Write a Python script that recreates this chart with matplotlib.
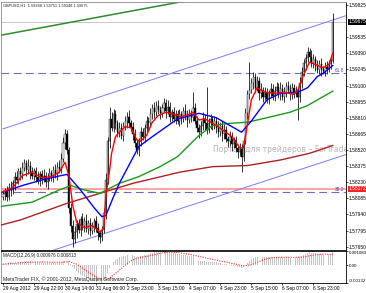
import numpy as np
import matplotlib
matplotlib.use('Agg')
import matplotlib.pyplot as plt
import matplotlib.transforms as mtransforms

plt.rcParams['font.family'] = ['Liberation Sans Narrow', 'Liberation Sans', 'DejaVu Sans']

# prices kept in pips, 5812 -> 1.5812
first_open = 5810
close_pips = [
    5812, 5815, 5810, 5818, 5816, 5822, 5828, 5825, 5833, 5830,
    5836, 5840, 5834, 5838, 5832, 5829, 5833, 5828, 5824, 5830,
    5826, 5829, 5823, 5827, 5831, 5828, 5834, 5830, 5837, 5835,
    5844, 5858, 5866, 5852, 5800, 5784, 5772, 5778, 5785, 5780,
    5790, 5784, 5788, 5781, 5786, 5779, 5783, 5788, 5782, 5777,
    5774, 5780, 5795, 5825, 5860, 5880, 5872, 5884, 5876, 5868,
    5872, 5865, 5874, 5878, 5882, 5876, 5873, 5866, 5858, 5852,
    5860, 5868, 5864, 5872, 5878, 5876, 5884, 5890, 5886, 5892,
    5888, 5885, 5890, 5894, 5887, 5891, 5882, 5886, 5880, 5884,
    5878, 5884, 5880, 5887, 5883, 5879, 5885, 5882, 5890, 5878,
    5872, 5868, 5874, 5880, 5876, 5870, 5876, 5880, 5874, 5878,
    5872, 5868, 5874, 5866, 5870, 5862, 5860, 5864, 5857, 5861,
    5854, 5850, 5853, 5846, 5860, 5885, 5902, 5906, 5912, 5918,
    5908, 5914, 5903, 5906, 5900, 5904, 5898, 5903, 5907, 5901,
    5905, 5909, 5903, 5907, 5900, 5904, 5910, 5906, 5902, 5908,
    5903, 5905, 5900, 5912, 5922, 5930, 5935, 5940, 5936, 5930,
    5934, 5928, 5924, 5929, 5925, 5923, 5927, 5925, 5929, 5932,
    5967]
wick_up = [
    4, 3, 5, 4, 6, 3, 4, 5, 3, 4,
    5, 4, 3, 6, 4, 5, 3, 4, 5, 3,
    4, 6, 3, 4, 5, 3, 4, 5, 4, 6,
    5, 6, 5, 4, 3, 4, 5, 6, 4, 5,
    3, 5, 4, 6, 3, 5, 4, 3, 5, 4,
    3, 4, 5, 6, 4, 11, 6, 5, 4, 3,
    5, 4, 3, 5, 4, 6, 3, 4, 5, 4,
    3, 5, 4, 3, 5, 4, 6, 3, 5, 4,
    5, 4, 3, 5, 4, 6, 4, 3, 5, 4,
    4, 5, 3, 4, 6, 5, 4, 3, 14, 4,
    5, 3, 4, 6, 4, 33, 5, 4, 3, 5,
    4, 6, 3, 4, 5, 4, 3, 5, 4, 3,
    4, 3, 5, 4, 3, 5, 4, 25, 5, 4,
    3, 5, 4, 6, 3, 5, 4, 3, 5, 4,
    5, 4, 3, 6, 4, 5, 3, 4, 5, 4,
    3, 5, 4, 6, 5, 4, 3, 5, 4, 6,
    4, 3, 5, 4, 6, 3, 4, 5, 4, 3,
    8]
wick_dn = [
    3, 5, 4, 3, 5, 4, 6, 3, 4, 5,
    4, 3, 5, 4, 6, 3, 4, 5, 3, 4,
    5, 3, 4, 6, 3, 4, 5, 3, 5, 4,
    4, 3, 5, 4, 5, 6, 7, 4, 5, 3,
    5, 4, 6, 3, 5, 4, 3, 5, 4, 6,
    6, 4, 3, 5, 4, 6, 3, 4, 5, 4,
    4, 3, 5, 4, 6, 3, 4, 5, 3, 4,
    5, 4, 3, 5, 4, 6, 3, 4, 5, 3,
    4, 5, 3, 4, 6, 3, 5, 4, 3, 5,
    3, 4, 5, 3, 4, 6, 3, 5, 4, 3,
    4, 5, 3, 4, 6, 4, 3, 5, 4, 3,
    5, 4, 3, 6, 4, 3, 5, 4, 6, 3,
    4, 5, 3, 14, 4, 3, 5, 4, 3, 5,
    4, 3, 6, 4, 5, 3, 4, 5, 3, 4,
    5, 3, 4, 6, 3, 5, 4, 3, 5, 4,
    4, 3, 21, 5, 4, 3, 6, 4, 5, 3,
    4, 5, 3, 4, 6, 3, 4, 5, 3, 4,
    2]

# moving averages (bar index, pips)
fast_i = [-2, 5, 10, 15, 20, 25, 29, 32, 34, 36, 38, 42, 46, 50, 52, 53, 55, 56, 58, 60,
          63, 66, 69, 71, 74, 77, 80, 84, 88, 92, 96, 98, 101, 104, 107, 110, 114, 118,
          122, 124, 126, 128, 131, 135, 140, 145, 150, 152, 155, 158, 161, 165, 168, 170]
fast_p = [5813, 5818, 5829, 5832, 5827, 5828, 5832, 5841, 5829, 5802, 5787, 5782, 5784,
          5778, 5782, 5810, 5834, 5849, 5864, 5868, 5873, 5872, 5861, 5860, 5865, 5877,
          5883, 5886, 5884, 5882, 5884, 5886, 5879, 5880, 5877, 5874, 5869, 5864, 5854,
          5854, 5875, 5897, 5908, 5904, 5903, 5904, 5902, 5906, 5920, 5931, 5929, 5926,
          5929, 5939]
mid_i = [-2, 10, 20, 30, 33, 40, 47, 51, 53, 57, 60, 70, 77, 90, 101, 110, 118, 123,
         128, 136, 143, 152, 157, 162, 165, 170]
mid_p = [5813, 5820, 5825, 5829, 5830, 5816, 5800, 5792, 5793, 5810, 5822, 5855, 5864,
         5880, 5885, 5881, 5873, 5868, 5878, 5897, 5903, 5904, 5908, 5918, 5921, 5928]
slow_i = [-2, 15, 29, 35, 42, 50, 60, 70, 81, 90, 101, 108, 117, 126, 136, 148, 157, 170]
slow_p = [5801, 5805, 5816, 5820, 5816, 5813, 5822, 5828, 5837, 5846, 5865, 5874, 5876,
          5877, 5881, 5886, 5892, 5905]
long_i = [-2, 9, 33, 50, 67, 91, 108, 126, 143, 158, 170]
long_p = [5784, 5789, 5804, 5813, 5822, 5832, 5837, 5838, 5843, 5849, 5856]

# trend lines and levels
chan_i = [0, 177]
chan_top = [5871, 5973]
chan_bot = [5747, 5848]
green_i = [-2, 100]
green_p = [5955, 5988]
bid = 1.59675
red_level = 1.58172
fib_levels = [1.5921, 1.5814]
fib_names = ['61.8', '38.2']

# MACD histogram, units of 1e-5
macd_hist = [
    12, 13, 12, 14, 15, 17, 20, 21, 24, 25,
    28, 31, 31, 32, 31, 29, 29, 27, 24, 24,
    22, 22, 19, 19, 20, 19, 21, 20, 22, 23,
    27, 36, 46, 46, 32, 14, -10, -30, -45, -60,
    -70, -82, -90, -100, -105, -112, -116, -118, -122, -127,
    -132, -130, -118, -92, -55, -20, 5, 28, 42, 52,
    60, 64, 68, 72, 76, 78, 78, 76, 72, 66,
    65, 68, 70, 75, 80, 85, 91, 97, 100, 104,
    106, 107, 108, 108, 106, 104, 100, 97, 93, 90,
    85, 84, 80, 79, 76, 72, 71, 68, 69, 63,
    44, 37, 35, 35, 32, 28, 28, 29, 26, 26,
    23, 19, 19, 14, 13, 8, 3, 2, -3, -4,
    -8, -13, -14, -20, -14, 0, 18, 31, 45, 58,
    62, 67, 66, 68, 66, 67, 64, 63, 63, 62,
    62, 64, 62, 63, 60, 60, 62, 61, 59, 60,
    58, 59, 56, 62, 70, 80, 88, 96, 98, 97,
    97, 93, 88, 87, 83, 79, 79, 76, 77, 78,
    97.6]
sig_i = [0, 10, 20, 30, 34, 38, 42, 46, 50, 54, 58, 62, 66, 70, 75, 80, 85, 90, 95, 100,
         105, 110, 115, 120, 124, 128, 132, 136, 140, 145, 150, 155, 160, 165, 170]
sig_v = [10, 22, 26, 23, 30, 10, -30, -70, -100, -105, -60, -10, 35, 58, 70, 88, 100, 97,
         86, 72, 55, 40, 25, 10, -4, 5, 30, 50, 60, 62, 60, 64, 78, 85, 81.3]

date_ticks = [0, 16, 32, 48, 64, 80, 96, 112, 128, 144, 160]
date_labels = ['29 Aug 2012', '29 Aug 22:00', '30 Aug 14:00', '31 Aug 06:00', '2 Sep 23:00',
               '3 Sep 15:00', '4 Sep 07:00', '4 Sep 23:00', '5 Sep 15:00', '6 Sep 07:00',
               '6 Sep 23:00']
price_ticks = [1.57650, 1.57795, 1.57940, 1.58085, 1.58230, 1.58375, 1.58520, 1.58665,
               1.58810, 1.58955, 1.59100, 1.59245, 1.59390, 1.59535, 1.59825]
macd_ticks = [0.001083, 0.0, -0.00132]
macd_labels = ['0.001083', '0.00', '-0.00132']
header = 'GBPUSD,H1  1.59348 1.59751 1.59348 1.59675'
macd_title = 'MACD(12,26,9) 0.000976 0.000813'
footer = 'MetaTrader FIX, \u00a9 2001-2012, MetaQuotes Software Corp.'
watermark = 'Портал для трейдеров \u2013 ForTrader'


def px(p):
    return 1.0 + np.asarray(p, dtype=float) / 10000.0


c = px(close_pips)
o = px([first_open] + close_pips[:-1])
hi = np.maximum(o, c) + np.asarray(wick_up) / 10000.0
lo = np.minimum(o, c) - np.asarray(wick_dn) / 10000.0
idx = np.arange(len(c))

fig = plt.figure(figsize=(3.66, 2.93), dpi=100)
ax = fig.add_axes([0.0027, 0.1468, 0.9426, 0.8464])
ax2 = fig.add_axes([0.0027, 0.0341, 0.9426, 0.1092])

fs = 3.5

# candles
ax.vlines(idx, lo, hi, color='black', lw=0.55, zorder=3)
up = c >= o
ax.bar(idx[up], (c - o)[up], bottom=o[up], width=0.6, color='white',
       edgecolor='black', lw=0.3, zorder=4)
ax.bar(idx[~up], (o - c)[~up], bottom=c[~up], width=0.6, color='black',
       edgecolor='black', lw=0.3, zorder=4)

# levels / trend lines
ax.axhline(bid, color='#c8c8c8', lw=0.7, zorder=1)
ax.axhline(red_level, color='#ff9a9a', lw=1.3, zorder=1)
for lev in fib_levels:
    ax.axhline(lev, color='#6c6cc8', lw=0.8, ls=(0, (7, 4)), zorder=2)
ax.plot(chan_i, px(chan_top), color='#7a7aff', lw=0.7, zorder=2)
ax.plot(chan_i, px(chan_bot), color='#7a7aff', lw=0.7, zorder=2)
ax.plot(green_i, px(green_p), color='#2e8b2e', lw=1.1, zorder=2)

# moving averages
ax.plot(long_i, px(long_p), color='#b02020', lw=1.0, zorder=5)
ax.plot(slow_i, px(slow_p), color='#1a9a1a', lw=1.0, zorder=5)
ax.plot(mid_i, px(mid_p), color='#0000ff', lw=1.0, zorder=6)
ax.plot(fast_i, px(fast_p), color='#ff0000', lw=1.0, zorder=7)

ax.set_xlim(-1.0, 176.8)
ax.set_ylim(1.57620, 1.59852)
ax.yaxis.tick_right()
ax.set_yticks(price_ticks)
ax.set_yticklabels(['%.5f' % t for t in price_ticks])
ax.tick_params(axis='y', labelsize=fs, length=1.5, width=0.5, pad=0.6)
ax.set_xticks([])
for s in ax.spines.values():
    s.set_linewidth(0.6)
ax.spines['left'].set_color('#888888')
ax.spines['top'].set_color('#888888')

trans = mtransforms.blended_transform_factory(ax.transAxes, ax.transData)
ax.text(1.007, bid, '%.5f' % bid, transform=trans, fontsize=fs, color='white',
        va='center', ha='left', clip_on=False,
        bbox=dict(boxstyle='square,pad=0.12', fc='black', ec='none'))
ax.text(1.007, red_level, '%.5f' % red_level, transform=trans, fontsize=fs,
        color='white', va='center', ha='left', clip_on=False,
        bbox=dict(boxstyle='square,pad=0.12', fc='#ff2020', ec='none'))
for lev, name in zip(fib_levels, fib_names):
    ax.text(0.995, lev, name, transform=trans, fontsize=3.4, color='#4848c0',
            va='bottom', ha='right')

ax.text(0.006, 0.992, header, transform=ax.transAxes, fontsize=2.8, va='top',
        ha='left', color='#202020')
ax.text(0.615, 0.405, watermark, transform=ax.transAxes, fontsize=5.6,
        color='#bdb5b5', va='center', ha='left', family=['DejaVu Sans'],
        clip_on=True, zorder=0)

# MACD
ax2.bar(idx, np.asarray(macd_hist) / 1e5, width=0.45, color='#c4c4c4', zorder=2)
ax2.plot(sig_i, np.asarray(sig_v) / 1e5, color='#ff3030', lw=0.8, ls=(0, (1, 1.2)),
         zorder=3)
ax2.set_xlim(-1.0, 176.8)
ax2.set_ylim(-0.00132, 0.001083)
ax2.yaxis.tick_right()
ax2.set_yticks(macd_ticks)
ax2.set_yticklabels(macd_labels)
ax2.tick_params(axis='y', labelsize=3.2, length=1.5, width=0.5, pad=0.6)
labs = ax2.get_yticklabels()
labs[0].set_va('top')
labs[2].set_va('bottom')
ax2.set_xticks(date_ticks)
ax2.set_xticklabels(date_labels)
ax2.tick_params(axis='x', labelsize=fs, length=1.5, width=0.5, pad=1)
for lbl in ax2.get_xticklabels():
    lbl.set_ha('left')
for s in ax2.spines.values():
    s.set_linewidth(0.6)
ax2.spines['left'].set_color('#888888')
ax2.text(0.006, 0.95, macd_title, transform=ax2.transAxes, fontsize=3.3, va='top',
         ha='left', color='#202020')
ax2.text(0.006, 0.02, footer, transform=ax2.transAxes, fontsize=3.7, va='bottom',
         ha='left', color='#202020')

fig.savefig('out.png', dpi=100)
